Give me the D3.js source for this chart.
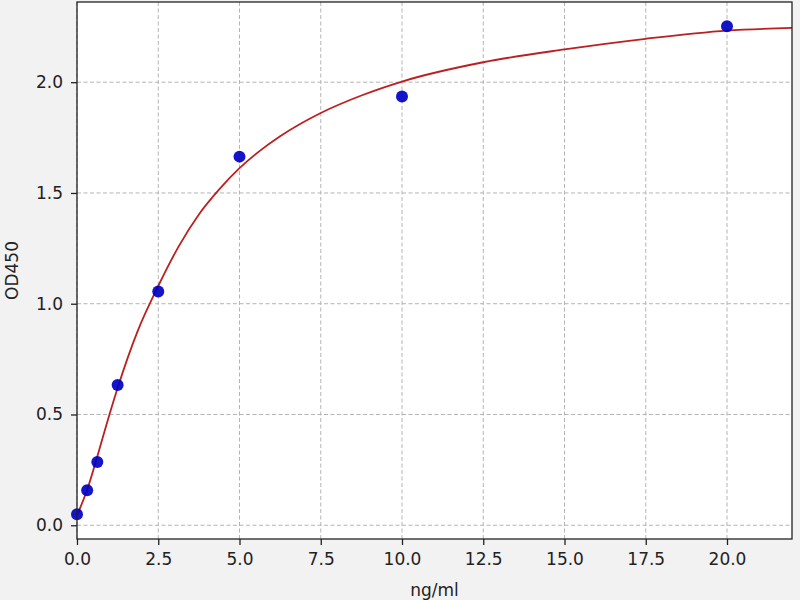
<!DOCTYPE html>
<html>
<head>
<meta charset="utf-8">
<script src="https://cdn.jsdelivr.net/npm/d3@7"></script>
<style>
  body { margin: 0; background: #f2f2f2; }
  text { font-family: "DejaVu Sans", sans-serif; fill: #222; }
</style>
</head>
<body>
<svg id="chart" width="800" height="600"></svg>
<script>
// measured standards (ng/ml vs OD450)
const concentrations = [0, 0.3125, 0.625, 1.25, 2.5, 5, 10, 20];
const odValues = [0.05, 0.158, 0.286, 0.633, 1.055, 1.664, 1.935, 2.253];

// fitted curve
const curveX = [0, 0.3125, 0.625, 0.9375, 1.25, 1.875, 2.5, 3.125, 3.75, 4.375, 5, 5.625, 6.25, 7.5, 8.75, 10, 12.5, 15, 17.5, 20, 22];
const curveY = [0.045, 0.16, 0.31, 0.47, 0.62, 0.88, 1.08, 1.258, 1.403, 1.516, 1.612, 1.69, 1.756, 1.861, 1.94, 2.003, 2.09, 2.148, 2.196, 2.233, 2.245];

const xTicks = [0, 2.5, 5, 7.5, 10, 12.5, 15, 17.5, 20];
const yTicks = [0, 0.5, 1.0, 1.5, 2.0];

const margin = { top: 2, right: 8, bottom: 61, left: 77 };
const width = 800, height = 600;
const yMin = -0.062, yMax = 2.362, xMax = 22;
const svg = d3.select('#chart');

const x = d3.scaleLinear().domain([0, xMax]).range([margin.left, width - margin.right]);
const y = d3.scaleLinear().domain([yMin, yMax]).range([height - margin.bottom, margin.top]);

// plot area
svg.append('rect')
    .attr('x', margin.left).attr('y', margin.top)
    .attr('width', x(xMax) - margin.left)
    .attr('height', y(yMin) - margin.top)
    .attr('fill', '#fff');

// grid
const grid = svg.append('g').attr('stroke', '#b4b4b4').attr('stroke-dasharray', '4,2.5').attr('stroke-width', 1);
grid.selectAll('.gx').data(xTicks).enter().append('line')
    .attr('x1', d => x(d)).attr('x2', d => x(d))
    .attr('y1', margin.top).attr('y2', y(yMin));
grid.selectAll('.gy').data(yTicks).enter().append('line')
    .attr('x1', margin.left).attr('x2', x(xMax))
    .attr('y1', d => y(d)).attr('y2', d => y(d));

// axes
const xAxis = d3.axisBottom(x).tickValues(xTicks).tickFormat(d3.format('.1f')).tickSize(6).tickPadding(8);
const yAxis = d3.axisLeft(y).tickValues(yTicks).tickFormat(d3.format('.1f')).tickSize(6).tickPadding(8);

svg.append('g')
    .attr('transform', `translate(0,${y(yMin)})`)
    .call(xAxis)
    .call(g => g.select('.domain').remove())
    .call(g => g.selectAll('text').style('font-size', '17px').style('font-family', 'DejaVu Sans').attr('fill', '#222'))
    .call(g => g.selectAll('line').attr('stroke', '#222').attr('stroke-width', 1.3));

svg.append('g')
    .attr('transform', `translate(${margin.left},0)`)
    .call(yAxis)
    .call(g => g.select('.domain').remove())
    .call(g => g.selectAll('text').style('font-size', '17px').style('font-family', 'DejaVu Sans').attr('fill', '#222'))
    .call(g => g.selectAll('line').attr('stroke', '#222').attr('stroke-width', 1.3));

// fitted curve
const line = d3.line()
    .x((d, i) => x(curveX[i]))
    .y(d => y(d))
    .curve(d3.curveMonotoneX);

svg.append('path')
    .datum(curveY)
    .attr('d', line)
    .attr('fill', 'none')
    .attr('stroke', '#bb2020')
    .attr('stroke-width', 1.8);

// points
svg.selectAll('.pt')
    .data(concentrations)
    .enter()
    .append('circle')
    .attr('cx', d => x(d))
    .attr('cy', (d, i) => y(odValues[i]))
    .attr('r', 6)
    .attr('fill', '#0000c4')
    .attr('fill-opacity', 0.92);

// frame
svg.append('rect')
    .attr('x', margin.left).attr('y', margin.top)
    .attr('width', x(xMax) - margin.left)
    .attr('height', y(yMin) - margin.top)
    .attr('fill', 'none')
    .attr('stroke', '#222')
    .attr('stroke-width', 1.3);

// labels
svg.append('text')
    .attr('x', (margin.left + x(xMax)) / 2)
    .attr('y', 596)
    .attr('text-anchor', 'middle')
    .style('font-size', '17px')
    .text('ng/ml');

svg.append('text')
    .attr('transform', `translate(18,${(margin.top + y(yMin)) / 2}) rotate(-90)`)
    .attr('text-anchor', 'middle')
    .style('font-size', '17px')
    .text('OD450');
</script>
</body>
</html>
